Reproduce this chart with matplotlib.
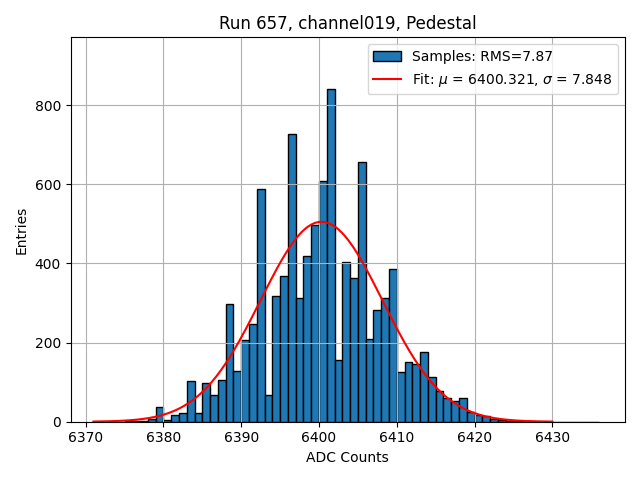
import matplotlib
matplotlib.use("Agg")
import matplotlib.pyplot as plt
import numpy as np

# histogram bins (ADC counts, width 1) and entries per bin
bin_edges = np.arange(6371, 6437)
counts = [0, 0, 0, 0, 1, 2, 3, 8, 37, 4,
          17, 22, 103, 22, 99, 67, 105, 297, 128, 207,
          247, 589, 67, 317, 367, 727, 312, 419, 496, 607,
          840, 157, 404, 364, 657, 208, 282, 312, 387, 125,
          152, 147, 177, 112, 77, 59, 52, 59, 24, 17,
          14, 8, 5, 3, 2, 1, 0, 0, 0, 0,
          0, 0, 0, 0, 0]

# gaussian fit result
fit_mu = 6400.321
fit_sigma = 7.848
fit_amp = 505.0
fit_range = (6371, 6430)
rms = 7.87

fig, ax = plt.subplots(figsize=(6.4, 4.8), dpi=100)

ax.hist(bin_edges[:-1], bins=bin_edges, weights=counts,
        color="#1f77b4", edgecolor="black",
        label=f"Samples: RMS={rms:.2f}")

xfit = np.linspace(fit_range[0], fit_range[1], 300)
yfit = fit_amp * np.exp(-0.5 * ((xfit - fit_mu) / fit_sigma) ** 2)
ax.plot(xfit, yfit, color="red",
        label=rf"Fit: $\mu$ = {fit_mu:.3f}, $\sigma$ = {fit_sigma:.3f}")

ax.set_xlim(6368.07, 6439.35)
ax.set_ylim(0, 971)
ax.set_title("Run 657, channel019, Pedestal")
ax.set_xlabel("ADC Counts")
ax.set_ylabel("Entries")
ax.grid(True)
ax.legend(loc="upper right")

fig.tight_layout()
fig.savefig("out.png")
